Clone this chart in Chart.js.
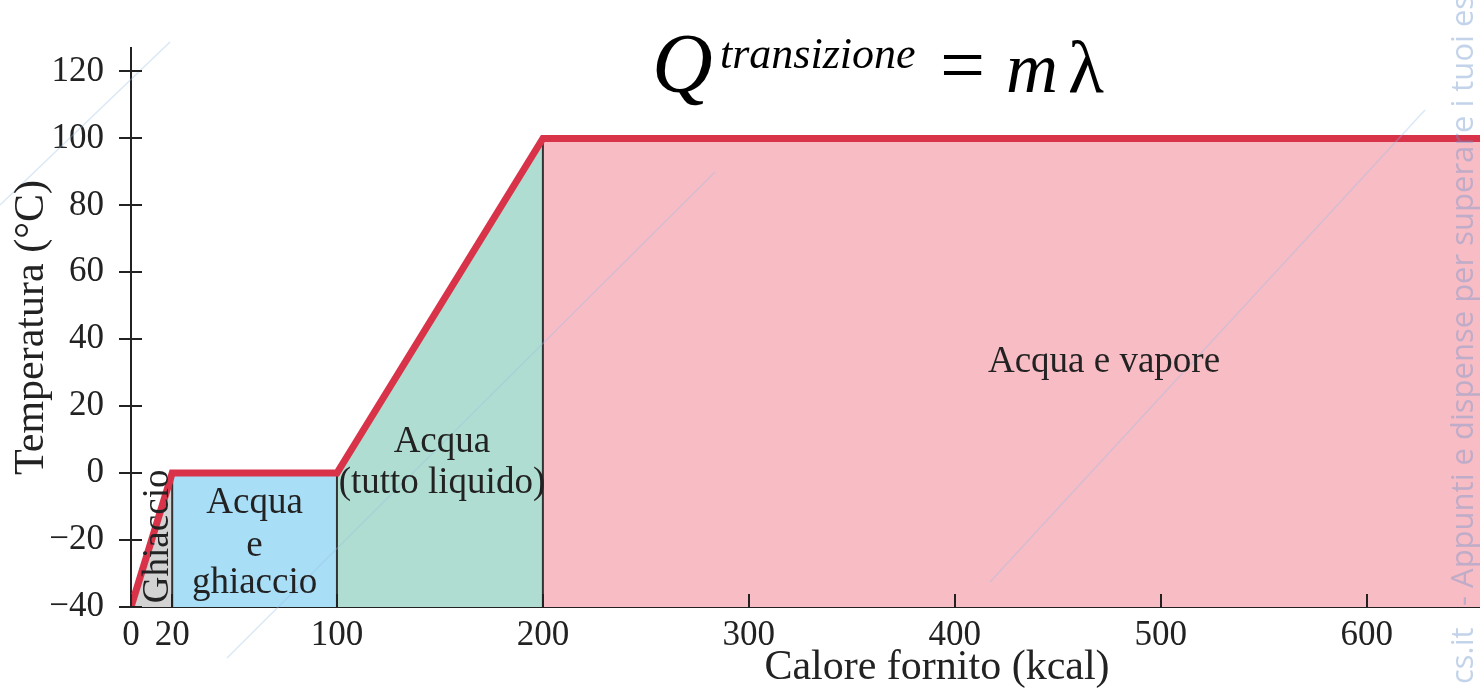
<!DOCTYPE html>
<html>
<head>
<meta charset="utf-8">
<script src="https://cdn.jsdelivr.net/npm/chart.js@4.4.0/dist/chart.umd.min.js"></script>
<style>
  html, body { margin: 0; padding: 0; background: #fff; }
  #wrap { width: 1480px; height: 691px; position: relative; }
</style>
</head>
<body>
<div id="wrap"><canvas id="heating"></canvas></div>
<script>
// heating curve of 1 kg of ice, -40 C -> steam
const heatKcal = [0, 20, 100, 200, 740];
const tempC = [-40, 0, 0, 100, 100];

const regionNames = ["Ghiaccio", "Acqua e ghiaccio", "Acqua (tutto liquido)", "Acqua e vapore"];
const regionColors = ["#d3d3d3", "#a9def7", "#b0ddd1", "#f8bcc5"];

const xTickValues = [0, 20, 100, 200, 300, 400, 500, 600];
const yTickValues = [-40, -20, 0, 20, 40, 60, 80, 100, 120];

const SERIF = "'Liberation Serif', 'Times New Roman', serif";
const RED = "#d9334a";

// the red curve on top, then the phase borders, then one filled area per phase
const datasets = [];
datasets.push({
  label: "curva",
  data: heatKcal.map((x, i) => ({ x: x, y: tempC[i] })),
  borderColor: RED,
  borderWidth: 7,
  borderJoinStyle: "miter",
  pointRadius: 0,
  fill: false,
});
for (let i = 1; i <= 3; i++) {
  datasets.push({
    label: "bordo" + i,
    data: [{ x: heatKcal[i], y: -40 }, { x: heatKcal[i], y: tempC[i] }],
    borderColor: "#333",
    borderWidth: 2,
    pointRadius: 0,
    fill: false,
  });
}
for (let i = 0; i < regionNames.length; i++) {
  datasets.push({
    label: regionNames[i],
    data: [{ x: heatKcal[i], y: tempC[i] }, { x: heatKcal[i + 1], y: tempC[i + 1] }],
    borderWidth: 0,
    pointRadius: 0,
    backgroundColor: regionColors[i],
    fill: { value: -40 },
  });
}

const fmt = (v) => (v < 0 ? "\u2212" + Math.abs(v) : String(v));

const extras = {
  id: "extras",
  afterDraw(chart) {
    const ctx = chart.ctx;
    const xs = chart.scales.x;
    const ys = chart.scales.y;
    const x0 = xs.left;
    const yb = ys.bottom;
    ctx.save();

    // faint watermark strokes
    ctx.strokeStyle = "rgba(150,190,230,0.35)";
    ctx.lineWidth = 1.5;
    [[227, 658, 715, 172], [990, 582, 1425, 110], [0, 205, 170, 42]].forEach((l) => {
      ctx.beginPath();
      ctx.moveTo(l[0], l[1]);
      ctx.lineTo(l[2], l[3]);
      ctx.stroke();
    });

    ctx.strokeStyle = "#222";
    ctx.lineWidth = 2;
    // y ticks cross the axis
    yTickValues.forEach((v) => {
      const p = Math.round(ys.getPixelForValue(v));
      ctx.beginPath();
      ctx.moveTo(x0 - 12, p);
      ctx.lineTo(x0 + 11, p);
      ctx.stroke();
    });
    // x ticks point inward
    xTickValues.forEach((v) => {
      const p = Math.round(xs.getPixelForValue(v));
      ctx.beginPath();
      ctx.moveTo(p, yb);
      ctx.lineTo(p, yb - 13);
      ctx.stroke();
    });

    // region labels
    ctx.fillStyle = "#222";
    ctx.font = "37px " + SERIF;
    ctx.textAlign = "center";
    ctx.textBaseline = "middle";
    const cx = (a, b) => (xs.getPixelForValue(a) + xs.getPixelForValue(b)) / 2;
    const py = (v) => ys.getPixelForValue(v) + 3;
    const c1 = cx(heatKcal[1], heatKcal[2]);
    ctx.fillText("Acqua", c1, py(-8));
    ctx.fillText("e", c1, py(-21));
    ctx.fillText("ghiaccio", c1, py(-32));
    const c2 = cx(heatKcal[2], heatKcal[3]) + 2;
    ctx.fillText("Acqua", c2, py(10));
    ctx.fillText("(tutto liquido)", c2, py(-2));
    ctx.fillText("Acqua e vapore", 1104, py(34));
    ctx.save();
    ctx.translate(cx(heatKcal[0], heatKcal[1]) + 7, py(-18));
    ctx.rotate(-Math.PI / 2);
    ctx.fillText("Ghiaccio", 0, 0);
    ctx.restore();

    // axis titles
    ctx.font = "42px " + SERIF;
    ctx.fillText("Calore fornito (kcal)", 937, 668);
    ctx.save();
    ctx.translate(32, (ys.top + ys.bottom) / 2);
    ctx.rotate(-Math.PI / 2);
    ctx.fillText("Temperatura (\u00B0C)", 0, 0);
    ctx.restore();

    // formula
    ctx.textAlign = "left";
    ctx.textBaseline = "alphabetic";
    ctx.fillStyle = "#000";
    ctx.font = "italic 84px " + SERIF;
    ctx.fillText("Q", 652, 92);
    ctx.font = "italic 44px " + SERIF;
    ctx.fillText("transizione", 720, 68);
    ctx.font = "80px " + SERIF;
    ctx.fillText("=", 940, 92);
    ctx.font = "italic 72px " + SERIF;
    ctx.fillText("m", 1006, 92);
    ctx.font = "74px " + SERIF;
    ctx.fillText("\u03BB", 1068, 92);

    // watermark
    ctx.fillStyle = "rgba(110,150,205,0.42)";
    ctx.font = "31px 'Open Sans', sans-serif";
    ctx.save();
    ctx.translate(1473, 606);
    ctx.rotate(-Math.PI / 2);
    ctx.fillText("- Appunti e dispense per superare i tuoi esami", 0, 0);
    ctx.restore();
    ctx.save();
    ctx.translate(1473, 684);
    ctx.rotate(-Math.PI / 2);
    ctx.fillText("cs.it", 0, 0);
    ctx.restore();
    ctx.restore();
  },
};

new Chart(document.getElementById("heating"), {
  type: "line",
  data: { datasets: datasets },
  options: {
    responsive: true,
    maintainAspectRatio: false,
    animation: false,
    layout: { padding: { top: 48, right: 0, left: 0, bottom: 0 } },
    plugins: { legend: { display: false }, tooltip: { enabled: false } },
    scales: {
      x: {
        type: "linear",
        min: 0,
        max: 655,
        z: 1,
        border: { color: "#222", width: 2 },
        grid: { display: false, drawTicks: false },
        afterBuildTicks: (s) => { s.ticks = xTickValues.map((v) => ({ value: v })); },
        afterFit: (s) => { s.height = 84; },
        ticks: {
          autoSkip: false,
          maxRotation: 0,
          padding: 8,
          color: "#222",
          font: { family: SERIF, size: 35 },
          callback: (v) => fmt(v),
        },
      },
      y: {
        type: "linear",
        min: -40,
        max: 127,
        z: 1,
        border: { color: "#222", width: 2 },
        grid: { display: false, drawTicks: false },
        afterBuildTicks: (s) => { s.ticks = yTickValues.map((v) => ({ value: v })); },
        afterFit: (s) => { s.width = 131; },
        ticks: {
          padding: 27,
          color: "#222",
          font: { family: SERIF, size: 35 },
          callback: (v) => fmt(v),
        },
      },
    },
  },
  plugins: [extras],
});
</script>
</body>
</html>
